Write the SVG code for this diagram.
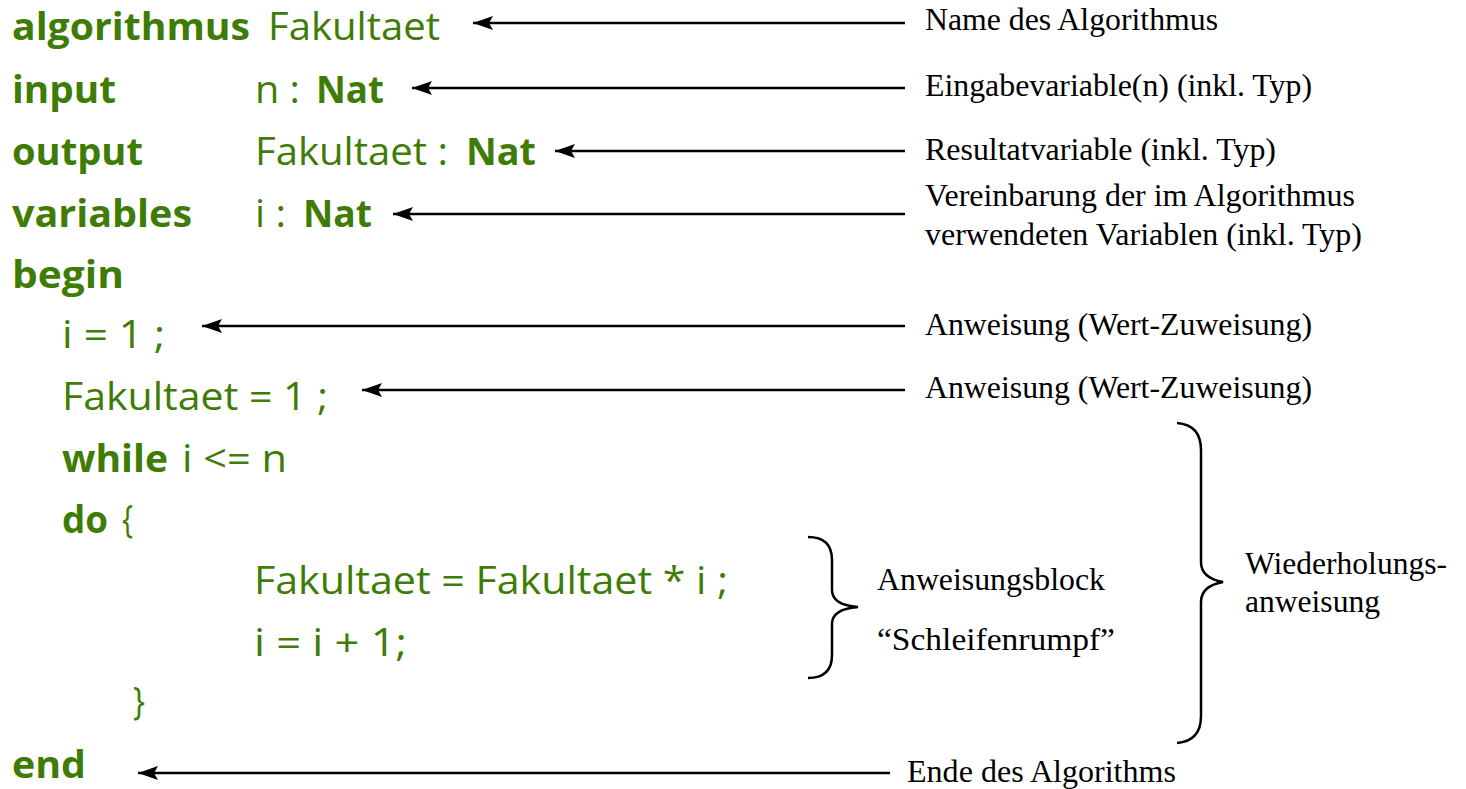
<svg xmlns="http://www.w3.org/2000/svg" width="1466" height="789" viewBox="0 0 1466 789">
<style>
.c{font-family:"Open Sans","DejaVu Sans",sans-serif;font-size:38px;fill:#3f7c06}
.b{font-weight:bold}
.l{font-family:"Liberation Serif","Times New Roman",serif;font-size:31px;fill:#000}
.a{stroke:#000;stroke-width:2.5;fill:none}
.br{stroke:#000;stroke-width:2.5;fill:none}
</style>
<defs>
<marker id="ah" markerUnits="userSpaceOnUse" markerWidth="22" markerHeight="16" refX="20" refY="7" orient="auto">
<path d="M0,0 L20,7 L0,14 L4,7 z" fill="#000"/>
</marker>
</defs>
<rect width="1466" height="789" fill="#fff"/>
<g id="code">
<text class="c b" x="12" y="40" textLength="238" lengthAdjust="spacingAndGlyphs">algorithmus</text>
<text class="c" x="268" y="40" textLength="172" lengthAdjust="spacingAndGlyphs">Fakultaet</text>
<text class="c b" x="12" y="103" textLength="104" lengthAdjust="spacingAndGlyphs">input</text>
<text class="c" x="255" y="103" textLength="45" lengthAdjust="spacingAndGlyphs">n :</text>
<text class="c b" x="316" y="103" textLength="68" lengthAdjust="spacingAndGlyphs">Nat</text>
<text class="c b" x="12" y="165" textLength="131" lengthAdjust="spacingAndGlyphs">output</text>
<text class="c" x="255" y="165" textLength="193" lengthAdjust="spacingAndGlyphs">Fakultaet :</text>
<text class="c b" x="466" y="165" textLength="70" lengthAdjust="spacingAndGlyphs">Nat</text>
<text class="c b" x="12" y="227" textLength="180" lengthAdjust="spacingAndGlyphs">variables</text>
<text class="c" x="255" y="227" textLength="31" lengthAdjust="spacingAndGlyphs">i :</text>
<text class="c b" x="303" y="227" textLength="69" lengthAdjust="spacingAndGlyphs">Nat</text>
<text class="c b" x="12" y="288" textLength="112" lengthAdjust="spacingAndGlyphs">begin</text>
<text class="c" x="62" y="348" textLength="103" lengthAdjust="spacingAndGlyphs">i = 1 ;</text>
<text class="c" x="62" y="410" textLength="266" lengthAdjust="spacingAndGlyphs">Fakultaet = 1 ;</text>
<text class="c b" x="62" y="472" textLength="106" lengthAdjust="spacingAndGlyphs">while</text>
<text class="c" x="182" y="472" textLength="105" lengthAdjust="spacingAndGlyphs">i &lt;= n</text>
<text class="c b" x="62" y="533" textLength="46" lengthAdjust="spacingAndGlyphs">do</text>
<text class="c" x="122" y="533" textLength="11" lengthAdjust="spacingAndGlyphs">{</text>
<text class="c" x="254" y="594" textLength="474" lengthAdjust="spacingAndGlyphs">Fakultaet = Fakultaet * i ;</text>
<text class="c" x="254" y="656" textLength="153" lengthAdjust="spacingAndGlyphs">i = i + 1;</text>
<text class="c" x="133" y="715" textLength="12" lengthAdjust="spacingAndGlyphs">}</text>
<text class="c b" x="12" y="778" textLength="74" lengthAdjust="spacingAndGlyphs">end</text>
</g>
<g id="connectors">
<line class="a" x1="905" y1="23" x2="473" y2="23" marker-end="url(#ah)"/>
<line class="a" x1="905" y1="88" x2="412" y2="88" marker-end="url(#ah)"/>
<line class="a" x1="905" y1="151" x2="555" y2="151" marker-end="url(#ah)"/>
<line class="a" x1="905" y1="214" x2="393" y2="214" marker-end="url(#ah)"/>
<line class="a" x1="905" y1="326" x2="202" y2="326" marker-end="url(#ah)"/>
<line class="a" x1="905" y1="390" x2="362" y2="390" marker-end="url(#ah)"/>
<line class="a" x1="890" y1="773" x2="138" y2="773" marker-end="url(#ah)"/>
</g>
<g id="brace-small">
<path class="br" d="M808,537 Q832,537 832,560 L832,590 Q832,605 858,607 Q832,609 832,624 L832,655 Q832,678 808,678"/>
</g>
<g id="brace-big">
<path class="br" d="M1177,423 Q1201,425 1201,450 L1201,562 Q1201,578 1223,582 Q1201,586 1201,602 L1201,716 Q1201,741 1177,743"/>
</g>
<g id="labels">
<text class="l" x="925" y="30" textLength="293" lengthAdjust="spacingAndGlyphs">Name des Algorithmus</text>
<text class="l" x="925" y="96" textLength="387" lengthAdjust="spacingAndGlyphs">Eingabevariable(n) (inkl. Typ)</text>
<text class="l" x="925" y="160" textLength="351" lengthAdjust="spacingAndGlyphs">Resultatvariable (inkl. Typ)</text>
<text class="l" x="925" y="206" textLength="430" lengthAdjust="spacingAndGlyphs">Vereinbarung der im Algorithmus</text>
<text class="l" x="925" y="245" textLength="437" lengthAdjust="spacingAndGlyphs">verwendeten Variablen (inkl. Typ)</text>
<text class="l" x="925" y="335" textLength="387" lengthAdjust="spacingAndGlyphs">Anweisung (Wert-Zuweisung)</text>
<text class="l" x="925" y="398" textLength="387" lengthAdjust="spacingAndGlyphs">Anweisung (Wert-Zuweisung)</text>
<text class="l" x="877" y="590" textLength="228" lengthAdjust="spacingAndGlyphs">Anweisungsblock</text>
<text class="l" x="877" y="650" textLength="238" lengthAdjust="spacingAndGlyphs">“Schleifenrumpf”</text>
<text class="l" x="1245" y="574" textLength="202" lengthAdjust="spacingAndGlyphs">Wiederholungs-</text>
<text class="l" x="1245" y="612" textLength="135" lengthAdjust="spacingAndGlyphs">anweisung</text>
<text class="l" x="907" y="782" textLength="269" lengthAdjust="spacingAndGlyphs">Ende des Algorithms</text>
</g>
</svg>
